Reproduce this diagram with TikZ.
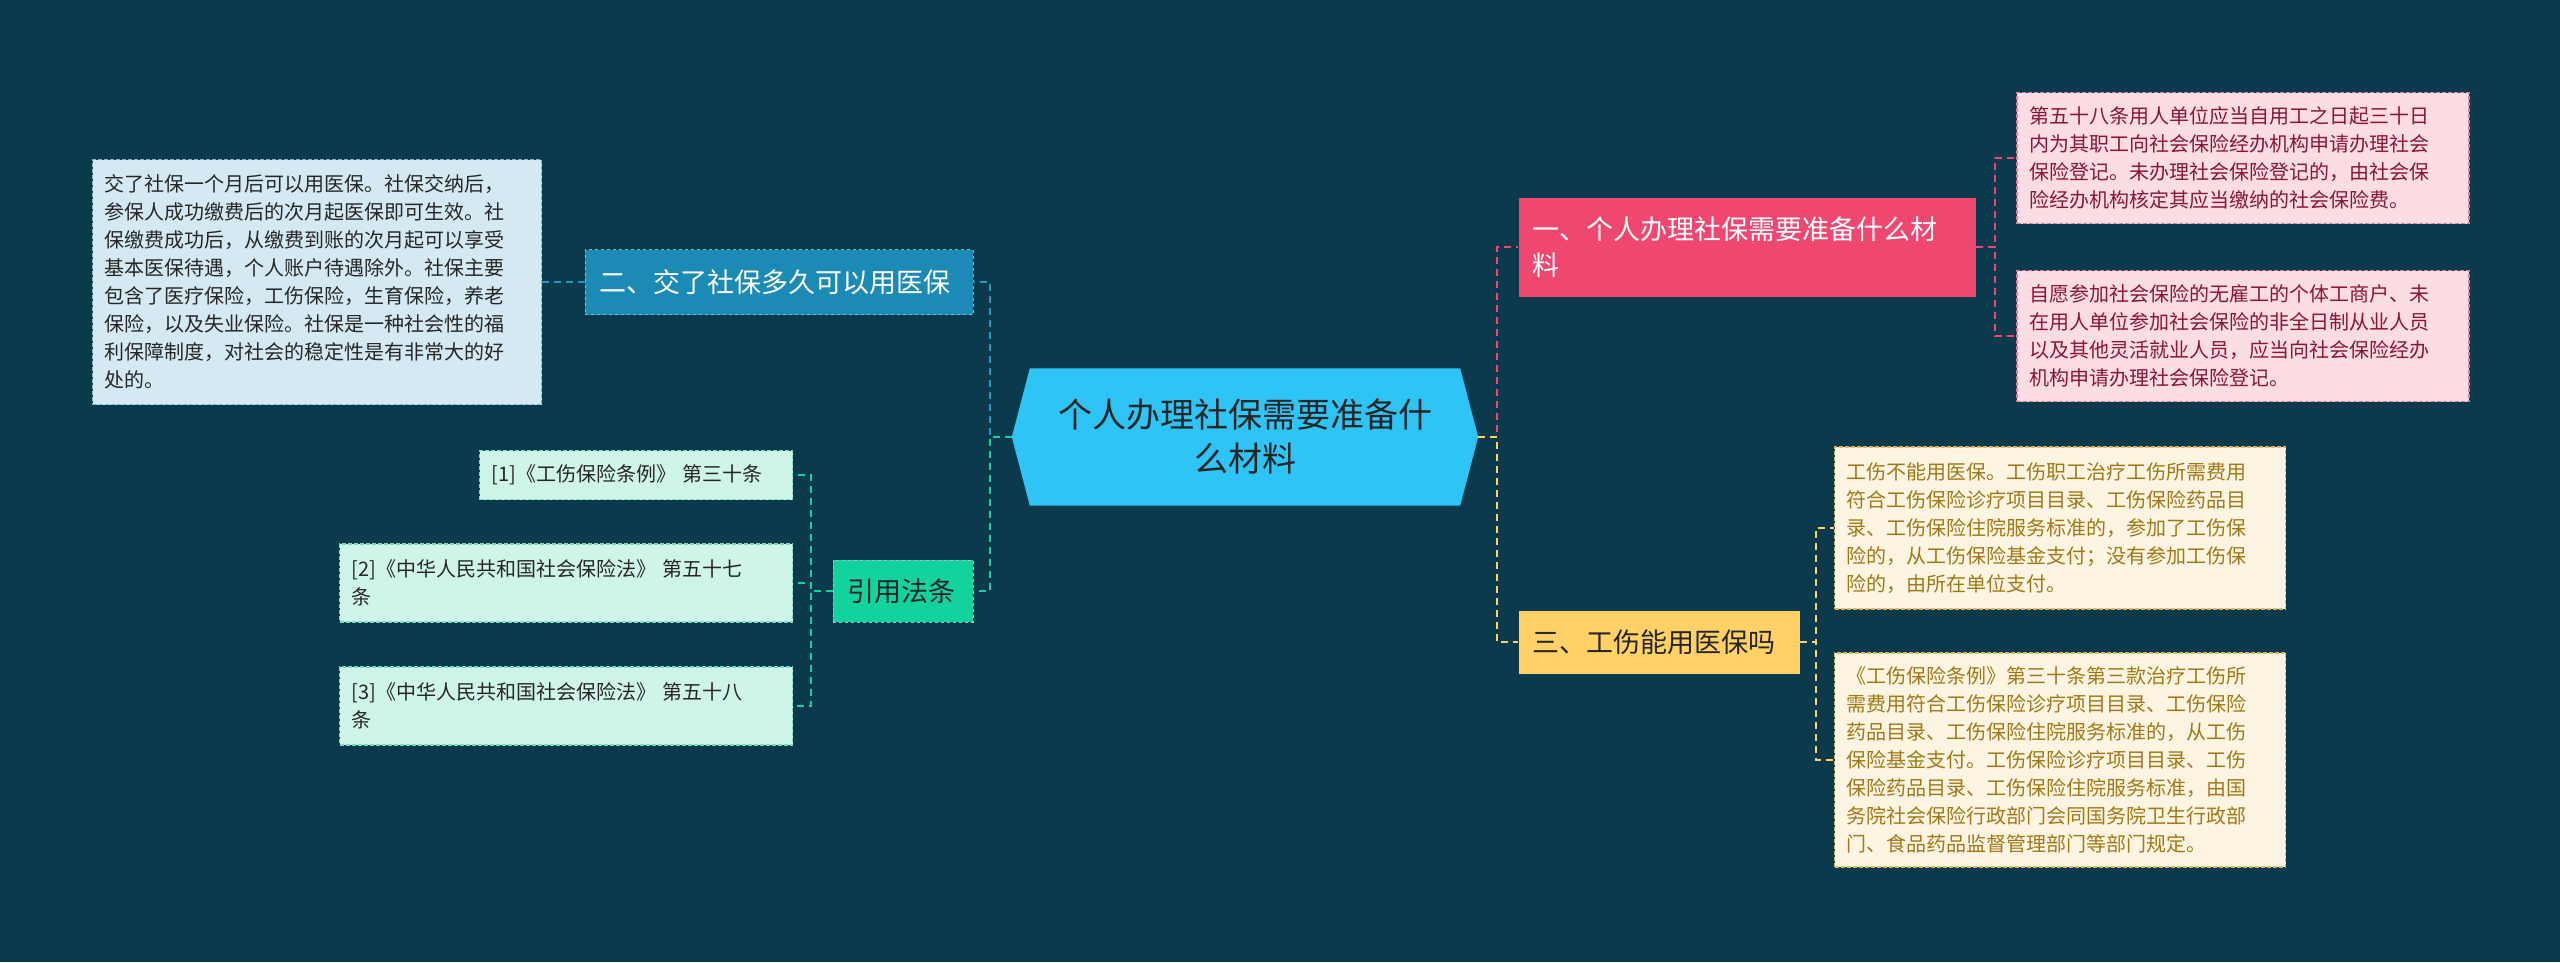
\documentclass[tikz,border=0pt]{standalone}
\usepackage{fontspec}
\setmainfont{Noto Sans CJK SC}
\usetikzlibrary{backgrounds}
\definecolor{bg}{HTML}{0A3A4C}
\definecolor{cyanc}{HTML}{2EC4F6}
\definecolor{pinkn}{HTML}{EF476F}
\definecolor{pinkl}{HTML}{FCDDE3}
\definecolor{pinkt}{HTML}{8A1538}
\definecolor{pinkb}{HTML}{E07A96}
\definecolor{yeln}{HTML}{FFD166}
\definecolor{yell}{HTML}{FDF5E2}
\definecolor{yelt}{HTML}{A07816}
\definecolor{yelb}{HTML}{D9B760}
\definecolor{bluen}{HTML}{1B8AB4}
\definecolor{bluel}{HTML}{D4E9F1}
\definecolor{blueb}{HTML}{7FB8D0}
\definecolor{bluec}{HTML}{2098BE}
\definecolor{greenn}{HTML}{12D39D}
\definecolor{greenl}{HTML}{CFF5EA}
\definecolor{greenb}{HTML}{7FD9BE}
\tikzset{
  x=1pt,y=-1pt,
  leaf/.style={draw, dashed, line width=1.5pt, dash pattern=on 4pt off 2pt, inner xsep=12pt, inner ysep=6pt, align=left, anchor=center, font=\fontsize{20}{28}\selectfont},
  mid/.style={inner xsep=14pt, inner ysep=6pt, align=left, anchor=center, font=\fontsize{27}{36}\selectfont},
  conn/.style={line width=2pt, dash pattern=on 7pt off 5pt},
}
\begin{document}
\begin{tikzpicture}
\useasboundingbox (0,0) rectangle (2560,962);

% center
\node[align=center, font=\fontsize{34}{44}\selectfont, text=black!85, minimum width=466pt, minimum height=137pt, inner sep=0pt] (c) at (1245,437) {个人办理社保需要准备什\\么材料};
\begin{scope}[on background layer]
\fill[bg] (0,0) rectangle (2560,962);
\fill[cyanc] (c.west) -- ([xshift=18pt]c.north west) -- ([xshift=-18pt]c.north east) -- (c.east) -- ([xshift=-18pt]c.south east) -- ([xshift=18pt]c.south west) -- cycle;
\end{scope}

% main branches
\node[mid, fill=pinkn, text=white, text width=429pt, minimum height=99pt] (n1) at (1747,247) {一、个人办理社保需要准备什么材\\料};
\node[mid, fill=yeln, text=black!85, text width=253pt, minimum height=63pt] (n3) at (1659,642) {三、工伤能用医保吗};
\node[mid, fill=bluen, text=white, text width=360pt, minimum height=65pt, draw=blueb, dashed] (n2) at (779,282) {二、交了社保多久可以用医保};
\node[mid, fill=greenn, text=black!85, text width=112pt, minimum height=62pt, inner xsep=14pt, draw=greenb, dashed] (n4) at (903,591) {引用法条};

% leaves
\node[leaf, fill=pinkl, draw=pinkb, text=pinkt, text width=428pt, minimum height=131pt] (p1) at (2243,158) {第五十八条用人单位应当自用工之日起三十日\\内为其职工向社会保险经办机构申请办理社会\\保险登记。未办理社会保险登记的，由社会保\\险经办机构核定其应当缴纳的社会保险费。};
\node[leaf, fill=pinkl, draw=pinkb, text=pinkt, text width=428pt, minimum height=131pt] (p2) at (2243,336) {自愿参加社会保险的无雇工的个体工商户、未\\在用人单位参加社会保险的非全日制从业人员\\以及其他灵活就业人员，应当向社会保险经办\\机构申请办理社会保险登记。};

\node[leaf, fill=yell, draw=yelb, text=yelt, text width=427pt, minimum height=162pt] (y1) at (2060,528) {工伤不能用医保。工伤职工治疗工伤所需费用\\符合工伤保险诊疗项目目录、工伤保险药品目\\录、工伤保险住院服务标准的，参加了工伤保\\险的，从工伤保险基金支付；没有参加工伤保\\险的，由所在单位支付。};
\node[leaf, fill=yell, draw=yelb, text=yelt, text width=427pt, minimum height=214pt] (y2) at (2060,760) {《工伤保险条例》第三十条第三款治疗工伤所\\需费用符合工伤保险诊疗项目目录、工伤保险\\药品目录、工伤保险住院服务标准的，从工伤\\保险基金支付。工伤保险诊疗项目目录、工伤\\保险药品目录、工伤保险住院服务标准，由国\\务院社会保险行政部门会同国务院卫生行政部\\门、食品药品监督管理部门等部门规定。};

\node[leaf, fill=bluel, draw=blueb, text=black!85, text width=425pt, minimum height=245pt] (b1) at (317,282) {交了社保一个月后可以用医保。社保交纳后，\\参保人成功缴费后的次月起医保即可生效。社\\保缴费成功后，从缴费到账的次月起可以享受\\基本医保待遇，个人账户待遇除外。社保主要\\包含了医疗保险，工伤保险，生育保险，养老\\保险，以及失业保险。社保是一种社会性的福\\利保障制度，对社会的稳定性是有非常大的好\\处的。};

\node[leaf, fill=greenl, draw=greenb, text=black!85, text width=289pt, minimum height=49pt] (g1) at (636,475) {[1]《工伤保险条例》 第三十条};
\node[leaf, fill=greenl, draw=greenb, text=black!85, text width=429pt, minimum height=78pt] (g2) at (566,583) {[2]《中华人民共和国社会保险法》 第五十七\\条};
\node[leaf, fill=greenl, draw=greenb, text=black!85, text width=429pt, minimum height=78pt] (g3) at (566,706) {[3]《中华人民共和国社会保险法》 第五十八\\条};

% connectors
\draw[conn, draw=pinkn] (c.east) -- ++(19,0) |- (n1.west);
\draw[conn, draw=yeln] (c.east) -- ++(19,0) |- (n3.west);
\draw[conn, draw=bluec] (c.west) -- ++(-22,0) |- (n2.east);
\draw[conn, draw=greenn] (c.west) -- ++(-22,0) |- (n4.east);

\draw[conn, draw=pinkn] (n1.east) -- ++(19,0) |- (p1.west);
\draw[conn, draw=pinkn] (n1.east) -- ++(19,0) |- (p2.west);
\draw[conn, draw=yeln] (n3.east) -- ++(16,0) |- (y1.west);
\draw[conn, draw=yeln] (n3.east) -- ++(16,0) |- (y2.west);
\draw[conn, draw=bluec] (n2.west) -- (b1.east);
\draw[conn, draw=greenn] (n4.west) -- ++(-22,0) |- (g1.east);
\draw[conn, draw=greenn] (n4.west) -- ++(-22,0) |- (g2.east);
\draw[conn, draw=greenn] (n4.west) -- ++(-22,0) |- (g3.east);
\end{tikzpicture}
\end{document}
